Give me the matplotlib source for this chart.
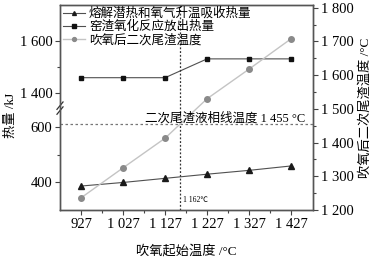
import numpy as np
import matplotlib
matplotlib.use("Agg")
import matplotlib.pyplot as plt
from matplotlib.ticker import FixedLocator, MultipleLocator, FuncFormatter

plt.rcParams['font.family'] = ['Liberation Serif', 'Noto Sans CJK SC']
plt.rcParams['font.size'] = 9
plt.rcParams['axes.unicode_minus'] = False

# data
start_temp = [927, 1027, 1127, 1227, 1327, 1427]
heat_absorb = [387, 400, 415, 430, 444, 460]
heat_release = [1458, 1458, 1458, 1531, 1531, 1531]
slag_temp = [1236, 1325, 1413, 1530, 1618, 1708]
name_absorb = "熔解潜热和氧气升温吸收热量"
name_release = "窑渣氧化反应放出热量"
name_slag = "吹氧后二次尾渣温度"
liquidus = 1455
cross_temp = 1162

# broken left axis: lower part 300-670, upper part 1340-1740
lo0, brk_lo, brk_hi, hi1 = 300.0, 670.0, 1340.0, 1740.0
fb = 0.497


def fwd(y):
    y = np.asarray(y, dtype=float)
    return np.where(
        y <= brk_lo, (y - lo0) / (brk_lo - lo0) * fb,
        np.where(y >= brk_hi, fb + (y - brk_hi) / (hi1 - brk_hi) * (1 - fb),
                 fb + (y - brk_lo) / (brk_hi - brk_lo) * 1e-6))


def inv(v):
    v = np.asarray(v, dtype=float)
    return np.where(
        v <= fb, lo0 + v / fb * (brk_lo - lo0),
        brk_hi + (v - fb) / (1 - fb) * (hi1 - brk_hi))


def thousands(v, pos):
    s = "%d" % round(v)
    if len(s) > 3:
        s = s[:-3] + " " + s[-3:]
    return s


fig = plt.figure(figsize=(3.73, 2.59), dpi=100)
ax = fig.add_axes([60 / 373, 1 - 210 / 259, 253 / 373, 205 / 259])
ax.set_yscale('function', functions=(fwd, inv))
ax.set_ylim(lo0, hi1)
ax.set_xlim(877, 1479)

ax2 = ax.twinx()
ax2.set_ylim(1200, 1808)

ax2.plot(start_temp, slag_temp, color='#c4c4c4', lw=1, marker='o', ms=4,
         mfc='#8a8a8a', mec='#8a8a8a', label=name_slag, zorder=3)
ax.plot(start_temp, heat_absorb, color='#505050', lw=0.8, marker='^', ms=4,
        mfc='#1a1a1a', mec='#1a1a1a', label=name_absorb, zorder=4)
ax.plot(start_temp, heat_release, color='#505050', lw=0.8, marker='s', ms=3.5,
        mfc='#111111', mec='#111111', label=name_release, zorder=4)

ax2.axhline(liquidus, color='#777777', lw=0.9, ls=(0, (2, 2)))
ax2.axvline(cross_temp, color='#333333', lw=0.9, ls=(0, (1.5, 1.5)))
ax2.text(305 / 373, 1 - 118 / 259, "二次尾渣液相线温度 1 455 °C",
         transform=fig.transFigure, fontsize=9, ha='right', va='center')
ax2.text(183 / 373, 1 - 200 / 259, "1 162℃", transform=fig.transFigure,
         fontsize=5.5, ha='left', va='center')

ax.set_xticks(start_temp)
ax.xaxis.set_minor_locator(FixedLocator([977, 1077, 1177, 1277, 1377]))
ax.xaxis.set_major_formatter(FuncFormatter(thousands))
ax.yaxis.set_major_locator(FixedLocator([400, 600, 1400, 1600]))
ax.yaxis.set_minor_locator(FixedLocator([500, 1500]))
ax.yaxis.set_major_formatter(FuncFormatter(thousands))
ax2.yaxis.set_major_locator(MultipleLocator(100))
ax2.yaxis.set_minor_locator(MultipleLocator(50))
ax2.yaxis.set_major_formatter(FuncFormatter(thousands))

for a in (ax, ax2):
    a.tick_params(which='major', length=3.5, width=0.8, labelsize=10.5, pad=2, color='#444444')
    a.tick_params(which='minor', length=2, width=0.8, color='#444444')
    for s in a.spines.values():
        s.set_color('#555555')
        s.set_linewidth(1.0)

# break marks on the left spine
for dy in (-0.012, 0.012):
    ax.plot([-0.012, 0.012], [fb + dy - 0.018, fb + dy + 0.018], transform=ax.transAxes,
            color='#333333', lw=0.9, clip_on=False, zorder=6)

ax.set_xlabel("吹氧起始温度 /°C", fontsize=9.5, labelpad=10)
ax.set_ylabel("热量 /kJ", fontsize=9.5, labelpad=1)
ax.yaxis.set_label_coords(-0.17, 0.46)
ax2.set_ylabel("吹氧后二次尾渣温度 /°C", fontsize=9.5, labelpad=4)

h1, l1 = ax.get_legend_handles_labels()
h2, l2 = ax2.get_legend_handles_labels()
leg = ax2.legend(h1 + h2, l1 + l2, loc='upper left', frameon=False, fontsize=9,
                 handlelength=1.8, handletextpad=0.3, borderaxespad=0.1,
                 labelspacing=0.05, borderpad=0.1, markerscale=0.7)
leg.set_zorder(10)

fig.savefig("out.png", dpi=100)
